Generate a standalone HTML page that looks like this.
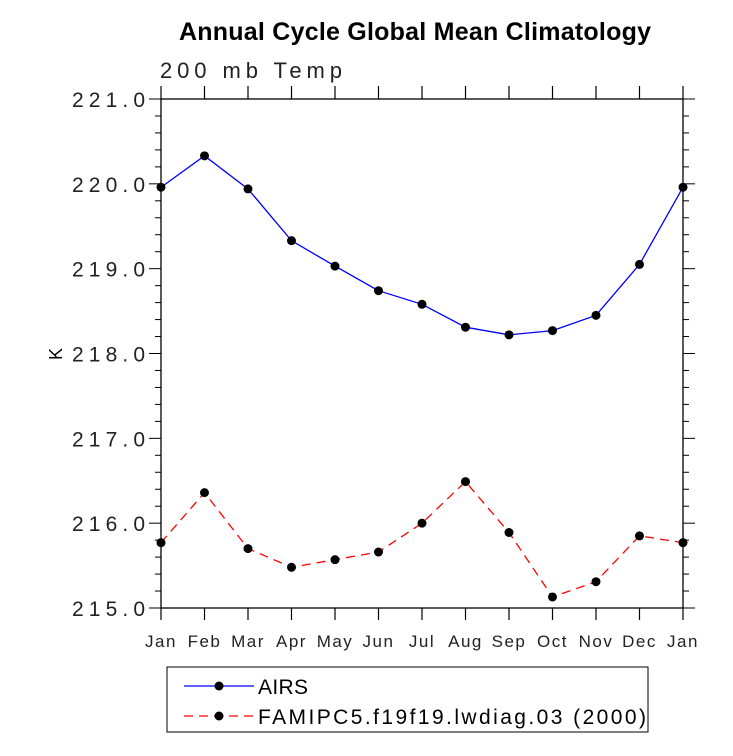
<!DOCTYPE html>
<html><head><meta charset="utf-8"><style>body{margin:0;background:#fff}svg{display:block;font-family:"Liberation Sans",sans-serif}</style></head>
<body>
<svg id="c" width="733" height="756">
<text x="179" y="40" textLength="472" font-size="25" font-weight="bold">Annual Cycle Global Mean Climatology</text>
<text x="160" y="78" font-size="22" fill="#222" textLength="182">200 mb Temp</text>
<text x="62" y="354" font-size="18" transform="rotate(-90 62 354)" text-anchor="middle">K</text>
<g id="axes"></g><g id="series"></g>
<g>
<rect x="167" y="667" width="481" height="65" fill="none" stroke="#000" stroke-width="1"/>
<g>
<line x1="184" y1="686" x2="254" y2="686" stroke="#00f" stroke-width="1.3"/><circle cx="219" cy="686" r="4.5"/>
<text x="258" y="694" font-size="21" textLength="50">AIRS</text></g>
<g>
<line x1="184" y1="716" x2="254" y2="716" stroke="#f00" stroke-width="1.3" stroke-dasharray="9,6"/><circle cx="219" cy="716" r="4.5"/>
<text x="258" y="724" font-size="21" textLength="388">FAMIPC5.f19f19.lwdiag.03 (2000)</text></g>
</g>
</svg>
<script>
const months=["Jan","Feb","Mar","Apr","May","Jun","Jul","Aug","Sep","Oct","Nov","Dec","Jan"];
const airs=[219.96,220.33,219.94,219.33,219.03,218.74,218.58,218.31,218.22,218.27,218.45,219.05,219.96];
const fam=[215.77,216.36,215.70,215.48,215.57,215.66,216.0,216.49,215.89,215.13,215.31,215.85,215.77];
const yTicks=[215,216,217,218,219,220,221];
const NS="http://www.w3.org/2000/svg";
const L=161,R=683,T=99,B=608,ymin=215,ymax=221;
const xs=i=>L+(R-L)*i/(months.length-1);
const ys=v=>B-(v-ymin)/(ymax-ymin)*(B-T);
function mk(t,a,p){const e=document.createElementNS(NS,t);for(const k in a)e.setAttribute(k,a[k]);p.appendChild(e);return e;}
const ax=document.getElementById('axes');
const fr=mk('rect',{x:L,y:T,width:R-L,height:B-T,fill:'none',stroke:'#000','stroke-width':1.3},ax);


months.forEach((m,i)=>{const x=xs(i);
mk('line',{x1:x,y1:B,x2:x,y2:B+12,stroke:'#000','stroke-width':1.2},ax);
mk('line',{x1:x,y1:T,x2:x,y2:T-13,stroke:'#000','stroke-width':1.2},ax);
const t=mk('text',{x:x,y:B+39,'text-anchor':'middle','font-size':17,fill:'#222','letter-spacing':'1.5'},ax);t.textContent=m;

});
for(let v=ymin;v<=ymax+1e-9;v+=0.2){const y=ys(v);const major=Math.abs(v-Math.round(v))<1e-6;const len=major?12:6;
mk('line',{x1:L-len,y1:y,x2:L,y2:y,stroke:'#000','stroke-width':1},ax);
mk('line',{x1:R,y1:y,x2:R+len,y2:y,stroke:'#000','stroke-width':1},ax);}
yTicks.forEach(v=>{const t=mk('text',{x:72,y:ys(v)+8,'font-size':21,fill:'#222',textLength:73},ax);t.textContent=v.toFixed(1);

});
const sg=document.getElementById('series');
function series(d,col,dash,name){const g=mk('g',{},sg);


const a={points:d.map((v,i)=>xs(i)+','+ys(v)).join(' '),fill:'none',stroke:col,'stroke-width':1.3};if(dash)a['stroke-dasharray']=dash;
mk('polyline',a,g);
d.forEach((v,i)=>{const c=mk('circle',{cx:xs(i),cy:ys(v),r:4.5,fill:'#000'},g);

});}
series(airs,'#00f',null,'airs-series');
series(fam,'#f00','9,6','famipc5-series');
</script>
</body></html>
